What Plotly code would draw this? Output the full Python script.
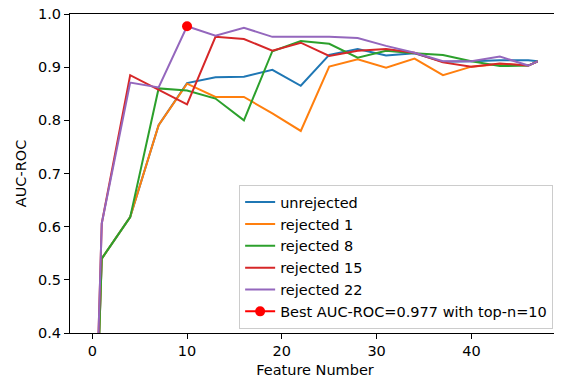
import plotly.graph_objects as go

features = [0, 1, 4, 7, 10, 13, 16, 19, 22, 25, 28, 31, 34, 37, 40, 43, 46, 47]

unrejected = [0.0, 0.540, 0.618, 0.791, 0.870, 0.881, 0.882, 0.895, 0.865, 0.923, 0.934, 0.922, 0.926, 0.910, 0.911, 0.913, 0.913, 0.911]
rejected_1 = [0.0, 0.540, 0.618, 0.791, 0.869, 0.844, 0.844, 0.813, 0.780, 0.901, 0.915, 0.899, 0.916, 0.885, 0.901, 0.906, 0.903, 0.911]
rejected_8 = [0.0, 0.540, 0.618, 0.860, 0.856, 0.841, 0.800, 0.930, 0.949, 0.944, 0.918, 0.931, 0.926, 0.923, 0.911, 0.902, 0.903, 0.911]
rejected_15 = [0.0, 0.606, 0.885, 0.857, 0.830, 0.957, 0.953, 0.931, 0.946, 0.921, 0.931, 0.934, 0.927, 0.909, 0.901, 0.907, 0.903, 0.911]
rejected_22 = [0.0, 0.606, 0.871, 0.862, 0.977, 0.959, 0.974, 0.957, 0.957, 0.957, 0.955, 0.940, 0.927, 0.911, 0.911, 0.920, 0.903, 0.911]

series_names = ["unrejected", "rejected 1", "rejected 8", "rejected 15", "rejected 22"]
series_values = [unrejected, rejected_1, rejected_8, rejected_15, rejected_22]
colors = ["#1f77b4", "#ff7f0e", "#2ca02c", "#d62728", "#9467bd"]

best_n = [10]
best_auc = [0.977]

y_ticks = [0.4, 0.5, 0.6, 0.7, 0.8, 0.9, 1.0]
x_ticks = [0, 10, 20, 30, 40]

fig = go.Figure()
for name, vals, c in zip(series_names, series_values, colors):
    fig.add_trace(go.Scatter(x=features, y=vals, mode="lines", name=name,
                             line=dict(color=c, width=2)))

fig.add_trace(go.Scatter(x=best_n, y=best_auc, mode="lines+markers",
                         name=f"Best AUC-ROC={best_auc[0]:.3f} with top-n={best_n[0]}",
                         line=dict(color="red", width=2),
                         marker=dict(color="red", size=10),
                         cliponaxis=False))

font = dict(family="DejaVu Sans", size=14.5, color="black")

# page body has an 8px default margin, so the figure is sized to fit the window
fig.update_layout(
    width=554, height=371,
    margin=dict(l=62, r=2, t=6, b=46, autoexpand=False),
    paper_bgcolor="white", plot_bgcolor="white",
    font=font,
    showlegend=True,
    legend=dict(x=0.986, y=0.012, xanchor="right", yanchor="bottom",
                bgcolor="rgba(255,255,255,0.8)", bordercolor="#cccccc", borderwidth=1,
                font=font, itemwidth=30, tracegroupgap=0),
)

fig.update_xaxes(range=[-2.35, 49.35], tickvals=x_ticks, ticks="outside", ticklen=5,
                 tickwidth=1, tickcolor="black", showline=True, linecolor="black",
                 linewidth=1, mirror=True, showgrid=False, zeroline=False,
                 automargin=False, ticklabeloverflow="allow",
                 title=dict(text="Feature Number", font=font, standoff=6))
fig.update_yaxes(range=[0.4, 1.0], tickvals=y_ticks, tickformat=".1f", ticks="outside",
                 ticklen=5, tickwidth=1, tickcolor="black", showline=True,
                 linecolor="black", linewidth=1, mirror=True, showgrid=False,
                 zeroline=False, automargin=False, ticklabeloverflow="allow",
                 title=dict(text="AUC-ROC", font=font, standoff=7))

fig.write_html("out.html")
